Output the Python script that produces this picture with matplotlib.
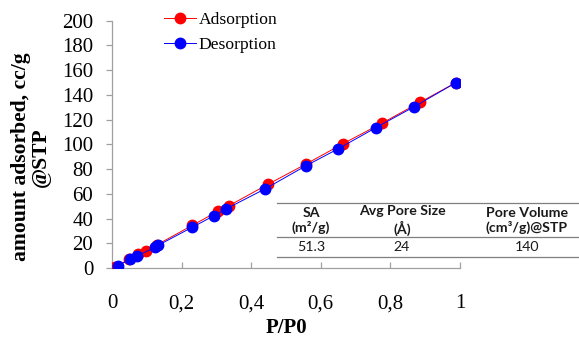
import matplotlib
matplotlib.use('Agg')
import matplotlib.pyplot as plt
from matplotlib.lines import Line2D

# ─── data ───────────────────────────────────────────────────────────────────
ads_p = [0.009, 0.049, 0.074, 0.097, 0.128, 0.231, 0.305, 0.337, 0.449,
         0.557, 0.663, 0.775, 0.885, 0.989]
ads_v = [1.0, 7.0, 11.0, 14.0, 18.6, 34.5, 46.0, 50.5, 67.8,
         84.0, 100.4, 117.0, 134.0, 150.0]

des_p = [0.989, 0.869, 0.759, 0.650, 0.557, 0.440, 0.328, 0.294, 0.231,
         0.133, 0.124, 0.071, 0.051, 0.016]
des_v = [150.0, 130.5, 113.6, 96.4, 82.6, 64.0, 47.8, 42.4, 33.0,
         18.4, 16.7, 9.7, 7.0, 1.6]

x_ticks = [0, 0.2, 0.4, 0.6, 0.8, 1.0]
x_tick_labels = ['0', '0,2', '0,4', '0,6', '0,8', '1']
y_ticks = [0, 20, 40, 60, 80, 100, 120, 140, 160, 180, 200]

table_header = ['SA\n(m²/g)', 'Avg Pore Size\n(Å)', 'Pore Volume\n(cm³/g)@STP']
table_values = ['51.3', '24', '140']

SERIF = 'Liberation Serif'
SANS = 'Lato'

# ─── figure ─────────────────────────────────────────────────────────────────
fig = plt.figure(figsize=(5.79, 3.39), dpi=100)
ax = fig.add_axes([0.1934, 0.2094, 0.601, 0.7296])

ax.plot(ads_p, ads_v, '-o', color='#ff0000', lw=0.7, ms=7.5,
        label='Adsorption', zorder=3)
ax.plot(des_p, des_v, '-o', color='#0000ff', lw=0.7, ms=7.5,
        label='Desorption', zorder=4)

ax.set_xlim(0, 1)
ax.set_ylim(0, 200)
ax.set_xticks(x_ticks)
ax.set_xticklabels(x_tick_labels)
ax.set_yticks(y_ticks)

for side in ('top', 'right'):
    ax.spines[side].set_visible(False)
for side in ('left', 'bottom'):
    ax.spines[side].set_color('#a0a0a0')
    ax.spines[side].set_linewidth(0.9)

ax.tick_params(axis='y', direction='out', length=4.5, width=0.9,
               color='#a0a0a0', pad=9, labelsize=15)
ax.tick_params(axis='x', direction='in', length=4.5, width=0.9,
               color='#a0a0a0', pad=19, labelsize=15)
for lbl in ax.get_xticklabels() + ax.get_yticklabels():
    lbl.set_fontfamily(SERIF)

ax.set_xlabel('P/P0', fontsize=15, fontweight='bold', family=SERIF, labelpad=3)
ax.set_ylabel('amount adsorbed, cc/g\n@STP', fontsize=15.6, fontweight='bold',
              family=SERIF, linespacing=0.95, multialignment='center')
ax.yaxis.set_label_coords(-0.176, 0.45)

leg = ax.legend(loc='upper left', bbox_to_anchor=(0.13, 1.065), frameon=False,
                prop={'family': SERIF, 'size': 12.6}, handlelength=1.8,
                handletextpad=0.15, labelspacing=0.5, borderaxespad=0)

# ─── table (figure pixel coords, origin top-left) ──────────────────────────
W, H = 579, 339


def fx(px):
    return px / W


def fy(py):
    return 1 - py / H


line_kw = dict(color='#7f7f7f', lw=0.9, transform=fig.transFigure)
for py in (203, 237, 257):
    fig.add_artist(Line2D([fx(277), fx(579)], [fy(py), fy(py)], **line_kw))

col_x = [311, 402, 527]
for cx, head, val in zip(col_x, table_header, table_values):
    fig.text(fx(cx), fy(220.5), head, ha='center', va='center', fontsize=10.2,
             fontweight='bold', family=SANS, linespacing=1.25, color='#1a1a1a')
    fig.text(fx(cx), fy(247), val, ha='center', va='center', fontsize=10.2,
             family=SANS, color='#1a1a1a')

fig.savefig('out.png', dpi=100)
